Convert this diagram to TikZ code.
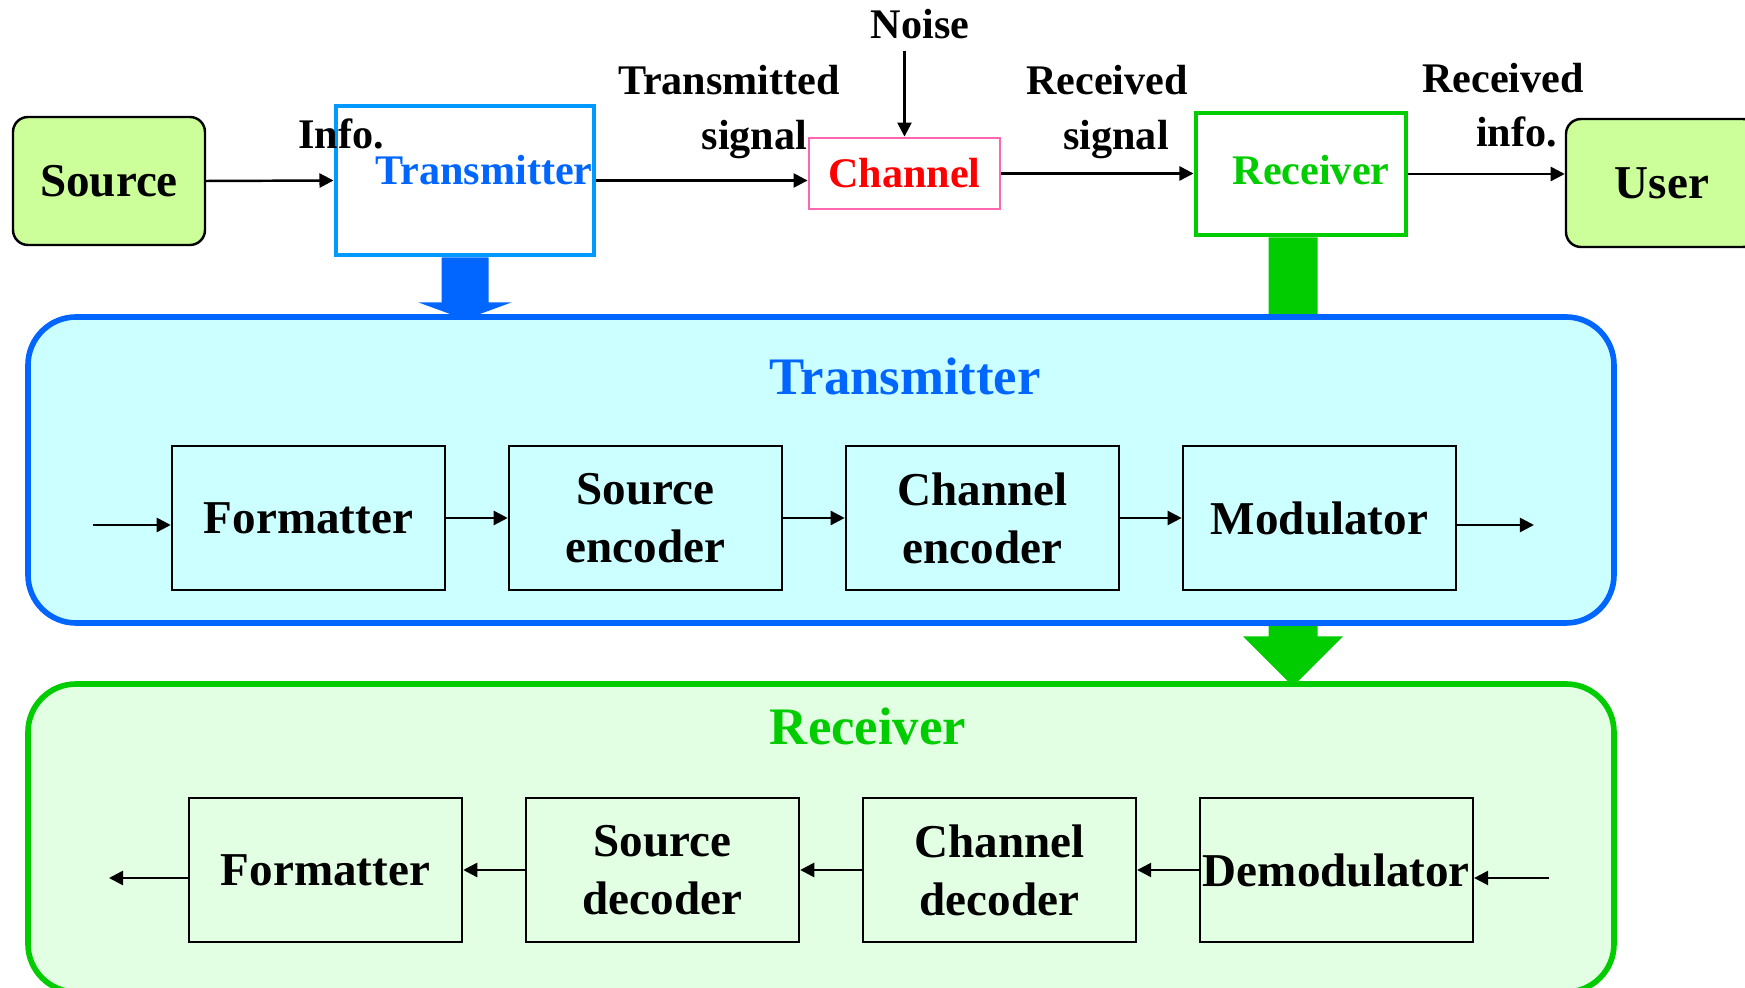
\documentclass[tikz,border=0pt]{standalone}
\usepackage{fontspec}
\setmainfont{Liberation Serif}
\usetikzlibrary{arrows.meta, positioning, backgrounds}
\definecolor{txblue}{RGB}{0,102,255}
\definecolor{boxblue}{RGB}{0,153,255}
\definecolor{rxgreen}{RGB}{0,204,0}
\definecolor{chpink}{RGB}{255,102,178}
\definecolor{endfill}{RGB}{204,255,153}
\definecolor{txfill}{RGB}{204,255,255}
\definecolor{rxfill}{RGB}{227,255,227}

\begin{document}
\begin{tikzpicture}[font=\bfseries,
  arr/.style={-{Triangle[length=4pt,width=4pt]},line width=0.7pt},
  blk/.style={draw,line width=0.7pt,minimum width=2.73cm,minimum height=1.44cm,inner sep=0pt,align=center,font=\fontsize{13.4}{16.5}\selectfont\bfseries},
  lbl/.style={align=center,font=\fontsize{12}{15.4}\selectfont\bfseries},
  panel/.style={rounded corners=0.48cm,line width=1.6pt,minimum width=15.86cm}]
  \useasboundingbox (0,0) rectangle (17.45,-9.88);
  % top row
  \node[blk,fill=endfill,rounded corners=0.15cm,minimum width=1.92cm,minimum height=1.28cm] (src) at (1.09,-1.81) {Source};
  \node[draw=boxblue,line width=1.4pt,minimum width=2.58cm,minimum height=1.49cm] (tbox) at (4.65,-1.805) {};
  \node[lbl,text=txblue] (tboxtxt) at (4.84,-1.70) {Transmitter};
  \node[lbl,draw=chpink,line width=0.8pt,minimum width=1.91cm,minimum height=0.71cm,inner sep=0pt,text=red] (chan) at (9.045,-1.735) {Channel};
  \node[draw=rxgreen,line width=1.4pt,minimum width=2.10cm,minimum height=1.22cm] (rbox) at (13.01,-1.74) {};
  \node[lbl,text=rxgreen] (rboxtxt) at (13.11,-1.70) {Receiver};
  \node[blk,fill=endfill,rounded corners=0.15cm,minimum width=1.92cm,minimum height=1.28cm] (usr) at (16.62,-1.83) {User};
  \node[lbl] (info) at (3.41,-1.34) {Info.};
  \node[lbl] (txsig) at (7.29,-1.12) {Transmitted\\\hspace*{0.51cm}signal};
  \node[lbl] (noise) at (9.20,-0.24) {Noise};
  \node[lbl] (rxsig) at (11.07,-1.12) {Received\\\hspace*{0.18cm}signal};
  \node[lbl] (rxinfo) at (15.03,-1.05) {Received\\\hspace*{0.27cm}info.};
  \draw[arr] (src.east) -- (tbox.west);
  \draw[arr] (tbox.east) -- (tbox.east -| chan.west);
  \draw[arr] (chan.north |- noise.south) -- (chan.north);
  \draw[arr] (chan.east) -- (chan.east -| rbox.west);
  \draw[arr] (rbox.east) -- (rbox.east -| usr.west);
  % block arrows
  \fill[txblue] (tbox.south) ++(-0.235,0) -- ++(0,-0.45) -- ++(-0.23,0) -- ++(0.465,-0.17) -- ++(0.465,0.17) -- ++(-0.23,0) -- ++(0,0.45) -- cycle;
  \begin{scope}[on background layer]
    \fill[rxgreen] ([xshift=-0.08cm]rbox.south) ++(-0.245,0) -- ++(0,-3.99) -- ++(-0.255,0) -- ++(0.50,-0.50) -- ++(0.50,0.50) -- ++(-0.255,0) -- ++(0,3.99) -- cycle;
  \end{scope}
  % transmitter
  \node[panel,draw=txblue,fill=txfill,minimum height=3.06cm] (tpanel) at (8.21,-4.70) {};
  \node[font=\fontsize{15}{18}\selectfont\bfseries,text=txblue] (ttitle) at (9.05,-3.76) {Transmitter};
  \node[blk] (tfmt) at (3.085,-5.18) {Formatter};
  \node[blk,right=0.615cm of tfmt] (senc) {Source\\encoder};
  \node[blk,right=0.615cm of senc] (cenc) {Channel\\encoder};
  \node[blk,right=0.615cm of cenc] (mod) {Modulator};
  \coordinate (tin) at (0.93,-5.25);
  \coordinate (tout) at (15.34,-5.25);
  \draw[arr] (tin) -- (tin -| tfmt.west);
  \foreach \a/\b in {tfmt/senc,senc/cenc,cenc/mod}
    \draw[arr] (\a.east) -- (\b.west);
  \draw[arr] (mod.east |- tout) -- (tout);
  % receiver
  \node[panel,draw=rxgreen,fill=rxfill,minimum height=3.08cm] (rpanel) at (8.21,-8.38) {};
  \node[font=\fontsize{15}{18}\selectfont\bfseries,text=rxgreen] (rtitle) at (8.68,-7.26) {Receiver};
  \node[blk] (rfmt) at (3.255,-8.70) {Formatter};
  \node[blk,right=0.615cm of rfmt] (sdec) {Source\\decoder};
  \node[blk,right=0.615cm of sdec] (cdec) {Channel\\decoder};
  \node[blk,right=0.615cm of cdec] (demod) {Demodulator};
  \coordinate (rin) at (15.49,-8.78);
  \coordinate (rout) at (1.09,-8.78);
  \draw[arr] (rin) -- (rin -| demod.east);
  \foreach \a/\b in {demod/cdec,cdec/sdec,sdec/rfmt}
    \draw[arr] (\a.west) -- (\b.east);
  \draw[arr] (rfmt.west |- rout) -- (rout);
\end{tikzpicture}
\end{document}
